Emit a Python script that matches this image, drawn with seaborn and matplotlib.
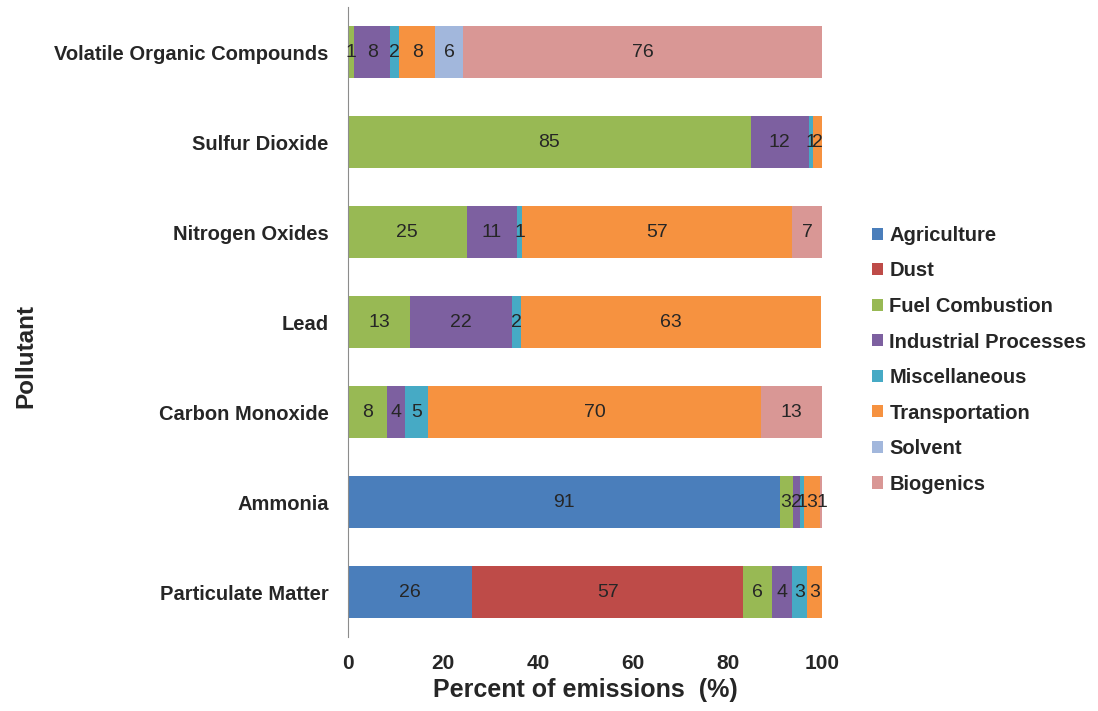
import pandas as pd
import matplotlib
matplotlib.use("Agg")
import matplotlib.pyplot as plt
import seaborn as sns
import numpy as np
from matplotlib.patches import Patch

pollutants = ["Volatile Organic Compounds", "Sulfur Dioxide", "Nitrogen Oxides", "Lead",
              "Carbon Monoxide", "Ammonia", "Particulate Matter"]
sources = ["Agriculture", "Dust", "Fuel Combustion", "Industrial Processes",
           "Miscellaneous", "Transportation", "Solvent", "Biogenics"]

# percent of emissions per source, one value per pollutant (same order as above)
agriculture = [0, 0, 0, 0, 0, 91.0, 26.2]
dust = [0, 0, 0, 0, 0, 0, 57.1]
fuel_combustion = [1.3, 84.9, 25.0, 13.0, 8.2, 2.7, 6.0]
industrial = [7.6, 12.2, 10.7, 21.6, 3.8, 1.6, 4.3]
miscellaneous = [1.9, 0.9, 1.0, 1.9, 4.9, 0.8, 3.2]
transportation = [7.6, 2.0, 56.8, 63.1, 70.1, 3.4, 3.2]
solvent = [5.8, 0, 0, 0, 0, 0, 0]
biogenics = [75.8, 0, 6.6, 0, 13.0, 0.6, 0]

colors = ["#4A7EBB", "#BE4B48", "#98B954", "#7D60A0",
          "#46AAC5", "#F69240", "#A2B7DC", "#D99795"]

df = pd.DataFrame({
    "Pollutant": pollutants,
    "Agriculture": agriculture,
    "Dust": dust,
    "Fuel Combustion": fuel_combustion,
    "Industrial Processes": industrial,
    "Miscellaneous": miscellaneous,
    "Transportation": transportation,
    "Solvent": solvent,
    "Biogenics": biogenics,
})
cum = df[sources].cumsum(axis=1)

sns.set_style("white")
plt.rcParams['font.family'] = ['Liberation Sans', 'DejaVu Sans']

fig = plt.figure(figsize=(10.98, 7.11), dpi=100)
ax = fig.add_axes([0.317, 0.104, 0.432, 0.886])

# stacked bars: draw cumulative totals from the last source back to the first
for src, col in zip(sources[::-1], colors[::-1]):
    sns.barplot(x=cum[src], y=df["Pollutant"], color=col, orient="h",
                width=0.58, order=pollutants, saturation=1, linewidth=0, ax=ax)

# segment labels
for i, p in enumerate(pollutants):
    start = 0
    for src in sources:
        v = df.loc[i, src]
        if v > 0:
            ax.text(start + v / 2, i, "%.0f" % v, ha="center", va="center",
                    fontsize=14, color="#262626")
        start += v

ax.set_xlim(0, 100)
ax.set_ylim(6.5, -0.5)
ax.set_xticks(np.arange(0, 101, 20))
ax.set_xlabel("Percent of emissions  (%)", fontsize=18, fontweight="bold", labelpad=4)
ax.set_ylabel("")
fig.text(0.024, 0.5, "Pollutant", rotation=90, ha="center", va="center",
         fontsize=17.5, fontweight="bold")

for s in ["top", "right", "bottom"]:
    ax.spines[s].set_visible(False)
ax.spines["left"].set_color("#8c8c8c")
ax.tick_params(axis="x", length=0, pad=12, labelsize=15)
ax.tick_params(axis="y", length=0, pad=14, labelsize=14.5)
ax.set_yticks(np.arange(-0.5, 7, 1), minor=True)
ax.tick_params(axis="y", which="minor", length=4, color="#8c8c8c")
for lab in ax.get_xticklabels() + ax.get_yticklabels():
    lab.set_fontweight("bold")

handles = [Patch(facecolor=c, edgecolor="none") for c in colors]
fig.legend(handles, sources, loc="center left", bbox_to_anchor=(0.778, 0.494),
           frameon=False, handlelength=0.55, handleheight=0.55,
           handletextpad=0.3, labelspacing=0.82,
           prop={"weight": "bold", "size": 14.5})

fig.savefig("out.png", dpi=100)
